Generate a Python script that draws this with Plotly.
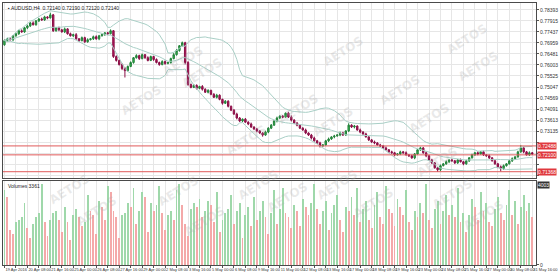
import plotly.graph_objects as go
import pandas as pd

# ---------------- data (AUDUSD, H4) ----------------
first_open = 0.7688
close = [
 0.7706, 0.7714, 0.7710, 0.7727, 0.7736, 0.7749,
 0.7744, 0.7762, 0.7770, 0.7783, 0.7775, 0.7792,
 0.7800, 0.7796, 0.7809, 0.7805, 0.7818, 0.7749,
 0.7762, 0.7753, 0.7744, 0.7757, 0.7736, 0.7727,
 0.7732, 0.7714, 0.7706, 0.7719, 0.7701, 0.7710,
 0.7714, 0.7723, 0.7714, 0.7727, 0.7732, 0.7740,
 0.7736, 0.7749, 0.7637, 0.7620, 0.7602, 0.7585,
 0.7576, 0.7594, 0.7611, 0.7632, 0.7641, 0.7628,
 0.7645, 0.7632, 0.7620, 0.7637, 0.7624, 0.7611,
 0.7602, 0.7615, 0.7607, 0.7611, 0.7628, 0.7645,
 0.7663, 0.7684, 0.7697, 0.7611, 0.7516, 0.7503,
 0.7512, 0.7499, 0.7507, 0.7495, 0.7482, 0.7490,
 0.7473, 0.7460, 0.7469, 0.7451, 0.7434, 0.7443,
 0.7421, 0.7404, 0.7387, 0.7370, 0.7357, 0.7365,
 0.7352, 0.7344, 0.7331, 0.7322, 0.7314, 0.7305,
 0.7296, 0.7309, 0.7326, 0.7339, 0.7357, 0.7370,
 0.7378, 0.7374, 0.7391, 0.7374, 0.7361, 0.7348,
 0.7339, 0.7326, 0.7318, 0.7305, 0.7296, 0.7283,
 0.7271, 0.7262, 0.7249, 0.7253, 0.7271, 0.7279,
 0.7288, 0.7292, 0.7296, 0.7305, 0.7296, 0.7314,
 0.7339, 0.7331, 0.7335, 0.7318, 0.7309, 0.7301,
 0.7288, 0.7275, 0.7266, 0.7262, 0.7253, 0.7249,
 0.7240, 0.7232, 0.7223, 0.7219, 0.7210, 0.7214,
 0.7223, 0.7219, 0.7210, 0.7206, 0.7197, 0.7214,
 0.7232, 0.7240, 0.7219, 0.7206, 0.7188, 0.7175,
 0.7154, 0.7145, 0.7163, 0.7171, 0.7180, 0.7188,
 0.7184, 0.7175, 0.7188, 0.7180, 0.7171, 0.7184,
 0.7197, 0.7210, 0.7219, 0.7214, 0.7223, 0.7210,
 0.7206, 0.7197, 0.7184, 0.7171, 0.7158, 0.7150,
 0.7163, 0.7171, 0.7184, 0.7193, 0.7201, 0.7223,
 0.7240, 0.7223, 0.7210, 0.7219, 0.7214,
]
upper_pips = [
 5, 4, 6, 3, 5, 4,
 6, 3, 5, 4, 7, 3,
 4, 6, 5, 3, 9, 4,
 3, 5, 4, 6, 3, 5,
 4, 7, 3, 5, 4, 6,
 3, 5, 6, 4, 5, 3,
 4, 6, 3, 5, 4, 6,
 7, 4, 5, 3, 6, 4,
 5, 3, 6, 4, 3, 5,
 4, 6, 5, 3, 4, 7,
 6, 3, 5, 4, 6, 3,
 5, 4, 3, 6, 4, 5,
 3, 5, 6, 4, 3, 5,
 4, 3, 5, 6, 4, 3,
 5, 4, 6, 3, 5, 4,
 3, 6, 4, 5, 3, 6,
 4, 5, 3, 6, 7, 4,
 5, 3, 4, 6, 3, 5,
 6, 4, 5, 3, 4, 6,
 3, 5, 4, 6, 5, 3,
 8, 4, 5, 3, 6, 4,
 5, 3, 4, 6, 3, 5,
 4, 6, 3, 5, 4, 3,
 5, 4, 6, 3, 5, 4,
 3, 5, 4, 6, 3, 5,
 4, 3, 5, 4, 6, 3,
 5, 4, 3, 6, 4, 5,
 3, 5, 4, 6, 3, 5,
 4, 6, 3, 5, 4, 6,
 5, 3, 4, 6, 4, 5,
 13, 5, 4, 6, 3,
]
lower_pips = [
 4, 5, 3, 6, 4, 5,
 3, 4, 6, 5, 3, 4,
 5, 3, 4, 6, 3, 5,
 4, 6, 3, 5, 4, 3,
 5, 4, 6, 3, 5, 4,
 3, 5, 4, 6, 3, 5,
 4, 3, 6, 5, 4, 7,
 30, 4, 3, 5, 4, 6,
 3, 5, 4, 3, 6, 4,
 5, 3, 6, 4, 5, 3,
 4, 5, 3, 8, 6, 4,
 3, 5, 4, 6, 3, 5,
 4, 3, 5, 4, 6, 3,
 5, 4, 3, 6, 4, 5,
 3, 5, 4, 3, 6, 4,
 7, 3, 5, 4, 3, 6,
 4, 5, 3, 4, 6, 3,
 5, 4, 3, 5, 4, 6,
 3, 5, 7, 4, 3, 5,
 4, 6, 3, 5, 4, 3,
 5, 4, 6, 3, 5, 4,
 3, 5, 4, 6, 3, 5,
 4, 3, 5, 4, 6, 3,
 5, 4, 3, 5, 4, 6,
 3, 5, 4, 6, 3, 5,
 4, 9, 5, 3, 4, 6,
 3, 5, 4, 3, 6, 4,
 5, 3, 4, 6, 3, 5,
 4, 5, 3, 4, 6, 12,
 5, 4, 3, 5, 4, 3,
 4, 6, 3, 5, 4,
]
volume = [
 3600, 3300, 1700, 1500, 2100, 2200,
 2300, 3000, 1800, 1300, 2000, 2300,
 2500, 3900, 2100, 1400, 2200, 2500,
 2600, 2200, 1600, 2800, 2100, 1200,
 2400, 2700, 2300, 1900, 2100, 3400,
 2600, 2400, 1500, 3100, 2800, 2200,
 3800, 3500, 2600, 2300, 1300, 2400,
 2500, 3000, 2800, 3700, 2000, 2600,
 3500, 3300, 1600, 3000, 2600, 2900,
 3800, 2500, 1700, 2400, 2600, 2200,
 3600, 3900, 2900, 2000, 1400, 2700,
 3000, 2800, 3200, 2300, 2600, 3100,
 2900, 2100, 3500, 1600, 2200, 2500,
 2700, 3400, 2000, 2600, 3000, 1300,
 2400, 2800, 1900, 3300, 2200, 2600,
 3100, 2300, 1500, 2500, 3600, 2000,
 2700, 3700, 2500, 2300, 1800, 2900,
 2600, 1900, 3200, 2800, 2400, 3000,
 3900, 2700, 2000, 2600, 3100, 1700,
 2500, 2900, 3400, 2200, 1600, 2800,
 2600, 3300, 2400, 3700, 2100, 2700,
 3100, 2200, 1800, 2900, 3500, 2300,
 2000, 3800, 2700, 2500, 1900, 3200,
 2800, 2400, 3600, 2100, 1700, 2600,
 2300, 3000, 2500, 3900, 2200, 1800,
 2700, 3100, 2000, 2600, 3400, 2400,
 2900, 2300, 3700, 2100, 2500, 1600,
 2400, 3200, 2800, 2200, 3500, 2600,
 3000, 2100, 1900, 2700, 3300, 2500,
 2200, 2900, 3600, 2400, 3100, 2000,
 2800, 3400, 2600, 3000, 2300,
]
time_labels = ["19 Apr 2016", "20 Apr 08:00", "21 Apr 16:00", "25 Apr 00:00",
               "26 Apr 08:00", "27 Apr 16:00", "29 Apr 00:00", "2 May 08:00",
               "3 May 16:00", "5 May 00:00", "6 May 08:00", "9 May 16:00",
               "11 May 00:00", "12 May 08:00", "13 May 16:00", "17 May 00:00",
               "18 May 08:00", "19 May 16:00", "23 May 00:00", "24 May 08:00",
               "25 May 16:00", "27 May 00:00", "30 May 08:00", "31 May 16:00"]
price_ticks = [0.78393, 0.77915, 0.77437, 0.76959, 0.76481, 0.76003, 0.75525,
               0.75047, 0.74569, 0.74091, 0.73613, 0.73135, 0.72657, 0.72179,
               0.71701, 0.71223]
level_lines = [0.72488, 0.72100, 0.71368]
header_values = ["0.72140", "0.72190", "0.72120", "0.72140"]
volume_last = 3361
volume_max_label = "4003"

# ---------------- derived ----------------
N = len(close)
idx = list(range(N))
open_ = [first_open] + close[:-1]
high = [max(o, c) + u * 0.0001 for o, c, u in zip(open_, close, upper_pips)]
low = [min(o, c) - l * 0.0001 for o, c, l in zip(open_, close, lower_pips)]
s = pd.Series(close)
mid = s.rolling(20, min_periods=1).mean()
sd = s.rolling(20, min_periods=1).std(ddof=0).fillna(0)
bb_up = mid + 2 * sd
bb_dn = mid - 2 * sd
vcol = ["#9fd8aa" if i == 0 or volume[i] >= volume[i - 1] else "#f4a9a9" for i in range(N)]

FONT = "Liberation Sans"
GRID = "#e6e6e6"
BAND = "#a9cfc6"

fig = go.Figure()
for band in (bb_up, mid, bb_dn):
    fig.add_trace(go.Scatter(x=idx, y=band, mode="lines", line=dict(color=BAND, width=1),
                             hoverinfo="skip", showlegend=False, xaxis="x", yaxis="y"))
fig.add_trace(go.Candlestick(
    x=idx, open=open_, high=high, low=low, close=close, whiskerwidth=0,
    increasing=dict(line=dict(color="#23803a", width=1), fillcolor="#35c250"),
    decreasing=dict(line=dict(color="#8a0f46", width=1), fillcolor="#b8185d"),
    showlegend=False, xaxis="x", yaxis="y"))
fig.add_trace(go.Bar(x=idx, y=volume, marker=dict(color=vcol, line=dict(width=0)),
                     width=0.3, showlegend=False, xaxis="x2", yaxis="y2"))

minor_vals = list(range(0, N + 1, 4))
label_text = []
for v in minor_vals:
    k = v // 8
    label_text.append(time_labels[k] if v % 8 == 0 and k < len(time_labels) else "")

# hide axis labels that sit under the level boxes (grid lines stay)
price_text = []
for v in price_ticks:
    near = any(abs(v - lv) < 0.0040 for lv in level_lines)
    price_text.append("" if near else "%.5f" % v)

xr = [-0.5, 185.3]
common_x = dict(range=xr, tickmode="array", tickvals=minor_vals, showgrid=True,
                gridcolor=GRID, gridwidth=1, zeroline=False, showline=True,
                mirror=True, linecolor="#4a4a4a", linewidth=1)

# watermark positions (pixel coordinates in the 560x274 page)
wm = [(118, 100), (160, 40), (205, 52), (250, 140), (303, 88), (338, 122),
      (375, 30), (432, 90), (462, 118), (500, 18), (512, 45), (470, 183),
      (45, 210), (72, 232), (155, 212), (182, 242), (262, 206), (292, 218),
      (368, 206), (405, 224), (485, 215), (517, 236)]
annotations = []
for (px, py) in wm:
    annotations.append(dict(x=(px - 3) / 541, y=(266 - py) / 264, xref="paper", yref="paper",
                            text="<b>AETOS</b>", showarrow=False, textangle=-32,
                            font=dict(family="DejaVu Sans", size=12, color="rgba(170,170,170,0.25)")))

annotations.append(dict(x=0.006, y=0.999, xref="paper", yref="paper", xanchor="left", yanchor="top",
                        text="▪ AUDUSD,H4  " + " ".join(header_values), showarrow=False,
                        font=dict(family=FONT, size=5, color="#222")))
annotations.append(dict(x=0.006, y=0.322, xref="paper", yref="paper", xanchor="left", yanchor="top",
                        text="Volumes " + str(volume_last), showarrow=False,
                        font=dict(family=FONT, size=5, color="#222")))
for lv in level_lines:
    annotations.append(dict(x=1, y=lv, xref="paper", yref="y", xanchor="left", yanchor="middle",
                            xshift=1, text="%.5f" % lv, showarrow=False, bgcolor="#e0393e",
                            borderpad=0, font=dict(family=FONT, size=5, color="white")))
annotations.append(dict(x=1, y=0.322, xref="paper", yref="paper", xanchor="left", yanchor="top",
                        xshift=1, text=volume_max_label, showarrow=False, bgcolor="#333",
                        borderpad=0, font=dict(family=FONT, size=5, color="white")))

shapes = [dict(type="line", xref="x domain", x0=0, x1=1, yref="y", y0=lv, y1=lv,
               line=dict(color="#e05a5a", width=1)) for lv in level_lines]

fig.update_layout(
    width=560, height=274,
    margin=dict(l=3, r=16, t=2, b=8),
    paper_bgcolor="white", plot_bgcolor="white",
    showlegend=False, bargap=0,
    xaxis=dict(domain=[0, 1], anchor="y", showticklabels=False, ticks="",
               rangeslider=dict(visible=False), **common_x),
    xaxis2=dict(domain=[0, 1], anchor="y2", matches="x", ticktext=label_text,
                ticks="outside", ticklen=2, tickcolor="#555", tickangle=0,
                ticklabelposition="outside right",
                tickfont=dict(family=FONT, size=4, color="#333"), **common_x),
    yaxis=dict(domain=[0.3333, 1], range=[0.71109, 0.78695], side="right",
               tickmode="array", tickvals=price_ticks, ticktext=price_text,
               ticks="outside", ticklen=2, tickcolor="#555",
               tickfont=dict(family=FONT, size=5, color="#333"),
               showgrid=True, gridcolor=GRID, zeroline=False,
               showline=True, mirror=True, linecolor="#4a4a4a", linewidth=1),
    yaxis2=dict(domain=[0, 0.322], range=[0, 4050], side="right",
                tickmode="array", tickvals=[0], ticktext=["0"],
                ticks="outside", ticklen=2, tickcolor="#555",
                tickfont=dict(family=FONT, size=5, color="#333"),
                showgrid=False, zeroline=False,
                showline=True, mirror=True, linecolor="#4a4a4a", linewidth=1),
    annotations=annotations,
    shapes=shapes,
)

fig.write_html("out.html")
